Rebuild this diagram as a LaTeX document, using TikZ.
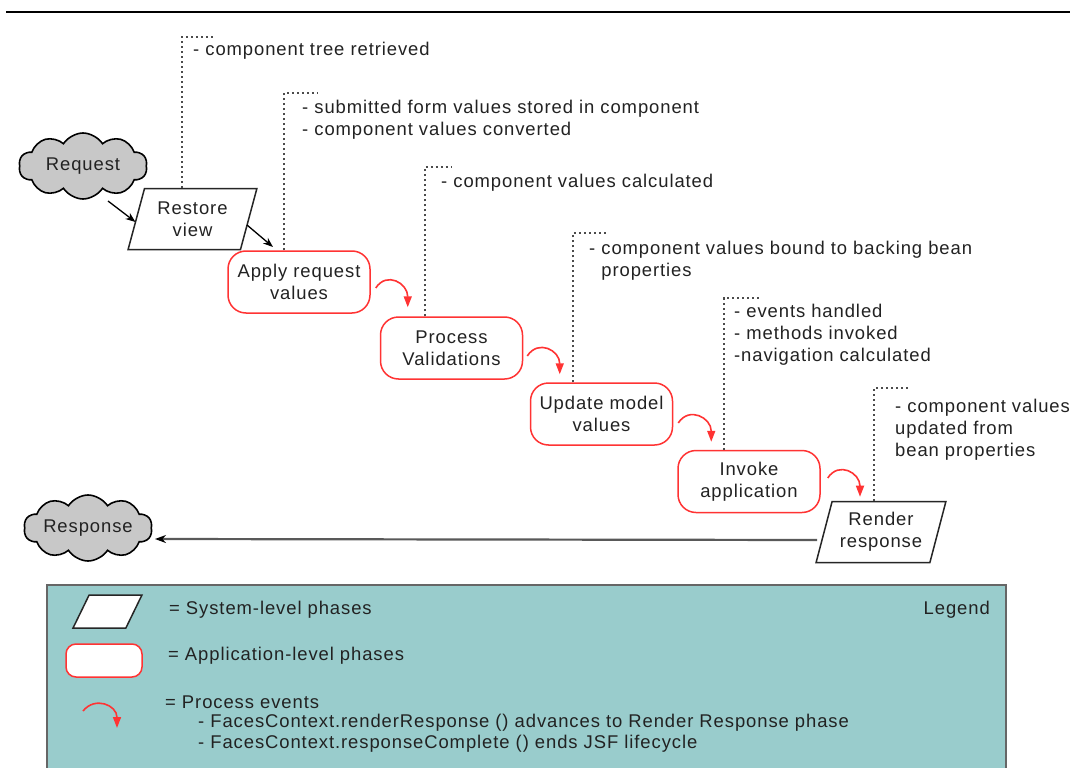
\documentclass[tikz,border=0pt]{standalone}
\usepackage{fontspec}
\usepackage{calc}
\setmainfont[LetterSpace=5]{Liberation Sans}
\usetikzlibrary{shapes.geometric,shapes.symbols,arrows.meta,calc}
\definecolor{legendfill}{RGB}{153,204,204}
\definecolor{phasered}{RGB}{255,51,51}
\definecolor{inkgrey}{RGB}{34,34,34}
\definecolor{dotgrey}{RGB}{75,75,75}
\definecolor{cloudgrey}{RGB}{200,200,200}

\begin{document}
\begin{tikzpicture}[x=1bp,y=-1bp,
  font=\fontsize{18.5}{22}\selectfont,
  every node/.append style={text=inkgrey},
  sysbox/.style={trapezium, trapezium left angle=71, trapezium right angle=109,
    trapezium stretches=true, draw=black!85, line width=1.5bp, fill=white,
    minimum width=130bp, minimum height=61bp, inner sep=0pt, align=center},
  appbox/.style={rectangle, rounded corners=18bp, draw=phasered, line width=1.5bp,
    fill=white, minimum width=142bp, minimum height=62bp, inner sep=0pt, align=center},
  cloudbox/.style={cloud, cloud puffs=10, cloud puff arc=115, aspect=2.7, draw=black,
    line width=1.6bp, fill=cloudgrey, minimum width=126bp, minimum height=40bp, inner sep=0pt},
  dotlead/.style={draw=dotgrey, line width=2.6bp, dash pattern=on 2.2bp off 2.8bp},
  notetext/.style={anchor=west, inner sep=0pt, align=left},
  flowarrow/.style={draw=black, line width=1.3bp, -{Stealth[length=10bp,width=7.5bp]}},
  evarrow/.style={draw=phasered, line width=1.6bp, -{Triangle[length=11bp,width=8bp]}},
]
\useasboundingbox (0,0) rectangle (1073,768);
\fill[white] (0,0) rectangle (1073,768);

% top rule
\draw[line width=2.3bp, black] (6,12) -- (1070,12);

% legend panel (runs off the bottom edge)
\fill[legendfill] (47,585) rectangle (1006,772);
\draw[draw=black!60, line width=2bp] (47,772) |- (1006,585) -- (1006,772);

% request / response (same text box width so both clouds match)
\node[cloudbox] (req) at (83,166) {\makebox[\widthof{Response}]{Request}};
\node[cloudbox] (resp) at (88,528) {\makebox[\widthof{Response}]{Response}};

% lifecycle phases
\node[sysbox] (rv) at (192.5,219) {Restore\\view};
\node[appbox] (apply) at (299,282) {Apply request\\values};
\node[appbox] (proc) at (451.5,348) {Process\\Validations};
\node[appbox] (upd) at (601.5,414) {Update model\\values};
\node[appbox] (inv) at (749,481.5) {Invoke\\application};
\node[sysbox] (rr) at (881,532) {Render\\response};

% flow into the lifecycle
\draw[flowarrow] ($(req.center)+(25,35)$) -- ($(rv.center)+(-57,3)$);
\draw[flowarrow] ($(rv.center)+(54.5,6)$) -- ($(apply.center)+(-26,-35)$);

% process-event arcs between phases
\draw[evarrow] ($(apply.east)+(5,6)$) .. controls +(11,-17) and +(0,-24) .. ($(proc.north west)+(28,-9)$);
\draw[evarrow] ($(proc.east)+(4,8)$) .. controls +(11,-17) and +(0,-24) .. ($(upd.north west)+(30,-8)$);
\draw[evarrow] ($(upd.east)+(5,9)$) .. controls +(11,-17) and +(0,-24) .. ($(inv.north west)+(34,-8)$);
\draw[evarrow] ($(inv.east)+(7,-3.5)$) .. controls +(11,-17) and +(0,-24) .. ($(rr.north)+(-21,-4)$);

% response back to the client
\draw[line width=2.2bp, draw=black!65, -{Stealth[length=11bp,width=8bp,black]}]
  ($(rr.center)+(-64,8)$) -- ($(resp.center)+(67,11)$);

% dotted leaders with phase notes
\coordinate (t1) at (216,37);
\draw[dotlead] ([xshift=-10.5bp]rv.north) |- (t1);
\node[notetext] (n1) at (193,51) {- component tree retrieved};

\coordinate (t2) at (317,93);
\draw[dotlead] ([xshift=-15bp]apply.north) |- (t2);
\node[notetext] (n2) at (302,120) {- submitted form values stored in component\\- component values converted};

\coordinate (t3) at (452,167);
\draw[dotlead] ([xshift=-26.5bp]proc.north) |- (t3);
\node[notetext] (n3) at (441,183) {- component values calculated};

\coordinate (t4) at (607,233);
\draw[dotlead] ([xshift=-28.5bp]upd.north) |- (t4);
\node[notetext] (n4) at (589,261) {- component values bound to backing bean\\\hphantom{- }properties};

\coordinate (t5) at (759,298);
\draw[dotlead] ([xshift=-25bp]inv.north) |- (t5);
\node[notetext] (n5) at (734,334.5) {- events handled\\- methods invoked\\-navigation calculated};

\coordinate (t6) at (908,388);
\draw[dotlead] ([xshift=-7bp]rr.north) |- (t6);
\node[notetext] (n6) at (895,430) {- component values\\updated from\\bean properties};

% legend
\node[sysbox, minimum width=69bp, minimum height=33bp] (lg1) at (107.5,611.5) {\vphantom{X}\hspace{10bp}};
\node[appbox, minimum width=76bp, minimum height=33bp, rounded corners=10bp] (lg2) at (104,660.5) {};
\coordinate (lg3s) at (83,711);
\coordinate (lg3e) at (117,728);
\draw[evarrow] (lg3s) .. controls +(12,-15) and +(0,-23) .. (lg3e);

\node[notetext] (lt1) at (169,610) {= System-level phases};
\node[notetext] (lt2) at (168,656) {= Application-level phases};
\node[notetext] (lt3) at (165,702) {= Process events};
\node[notetext] (lt4) at (198,723) {- FacesContext.renderResponse () advances to Render Response phase};
\node[notetext] (lt5) at (198,744) {- FacesContext.responseComplete () ends JSF lifecycle};
\node[notetext, anchor=east] (lgt) at (990,610) {Legend};
\end{tikzpicture}
\end{document}
